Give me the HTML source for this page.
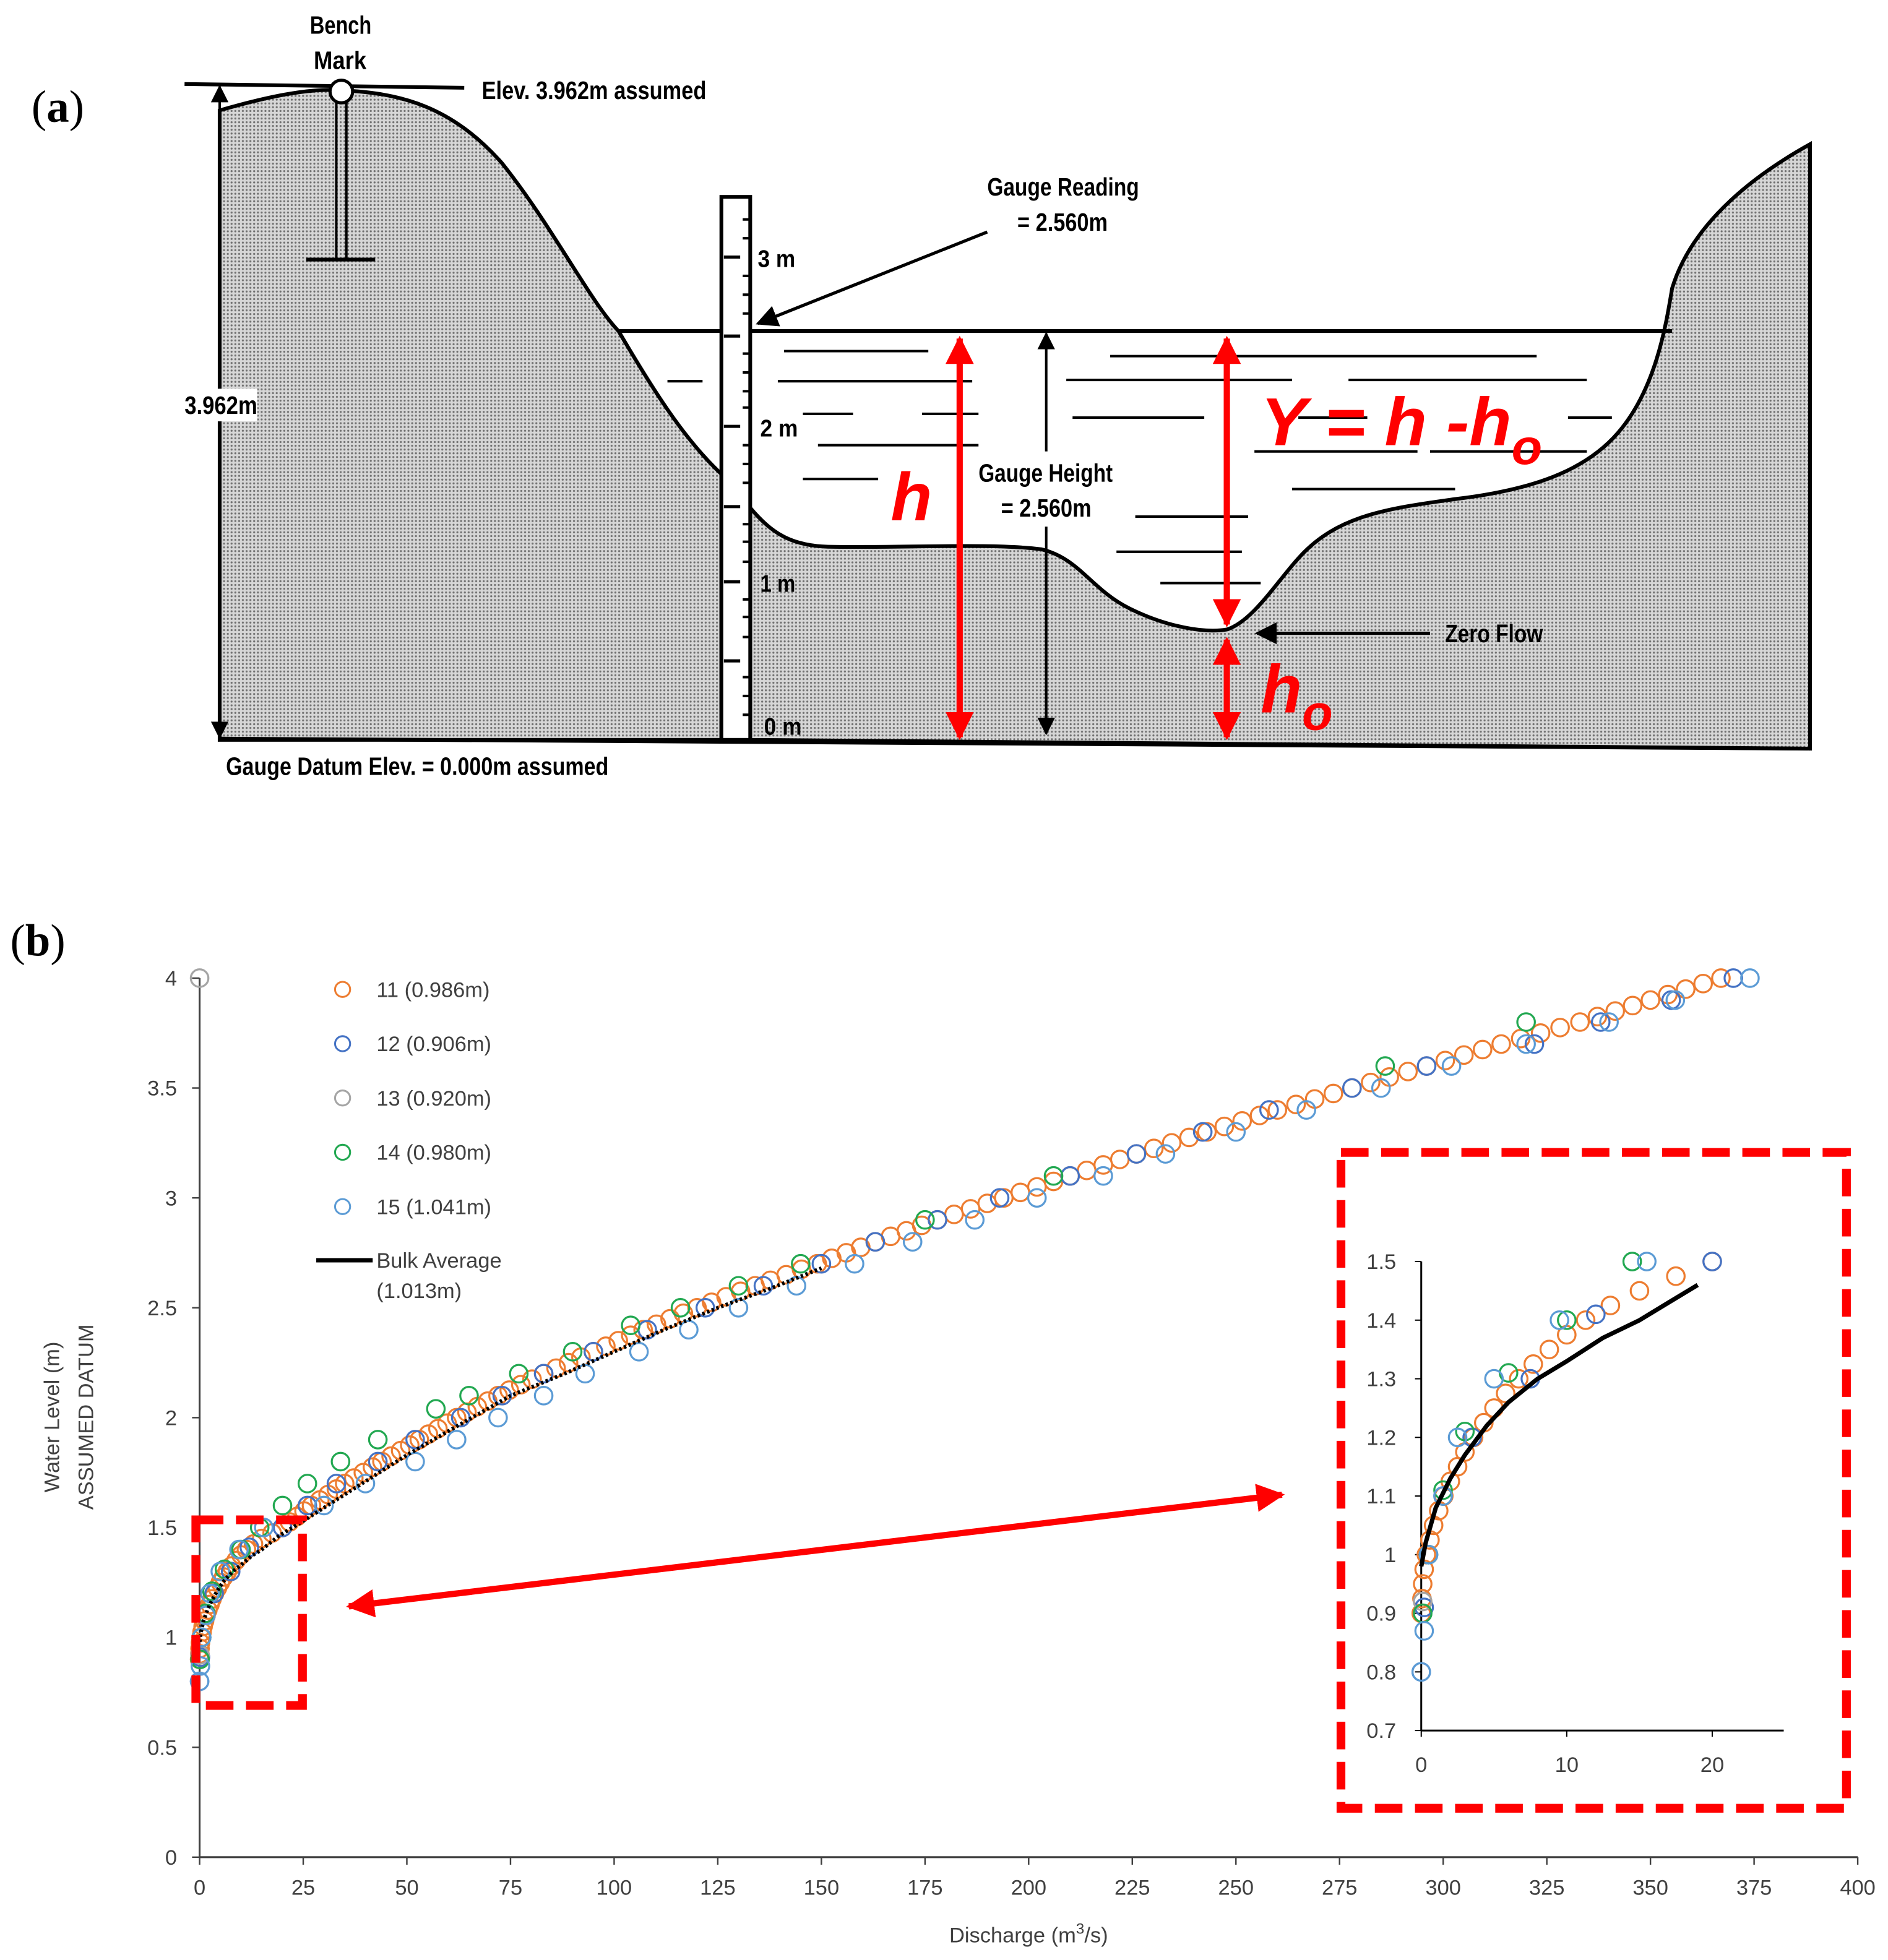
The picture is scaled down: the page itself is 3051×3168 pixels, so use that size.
<!DOCTYPE html>
<html><head><meta charset="utf-8">
<style>
html,body{margin:0;padding:0;background:#fff;}
svg{display:block;}
.nar{font-family:"Liberation Sans Narrow","Liberation Sans",sans-serif;font-weight:bold;}
.tk{font-family:"Liberation Sans",sans-serif;font-size:17px;fill:#404040;}
</style></head>
<body>
<svg id="fig" width="3051" height="3168" viewBox="0 0 1505 1563" xmlns="http://www.w3.org/2000/svg">
<defs>
<pattern id="dots" width="3" height="3" patternUnits="userSpaceOnUse">
<rect width="3" height="3" fill="#d6d6d6"/><circle cx="1.5" cy="1.5" r="0.8" fill="#707070"/>
</pattern>
<marker id="ah" viewBox="0 0 10 10" refX="9" refY="5" markerWidth="7" markerHeight="7" orient="auto-start-reverse"><path d="M0,0 L10,5 L0,10 z" fill="#000"/></marker>
<marker id="rh" viewBox="0 0 10 10" refX="9" refY="5" markerWidth="4.5" markerHeight="4.5" orient="auto-start-reverse"><path d="M0,0 L10,5 L0,10 z" fill="#ff0000"/></marker>
</defs>

<!-- ===== Panel (a) ===== -->
<g>
<text x="25" y="97" font-family="Liberation Serif,serif" font-size="36">(<tspan font-weight="bold">a</tspan>)</text>
<path fill="url(#dots)" stroke="#000" stroke-width="3"
 d="M175,88 C210,78 245,70 271,72 C320,74 360,85 400,130 C440,180 470,240 493,264 C520,310 545,350 575,378 L575,590 L175,590 Z"/>
<path fill="url(#dots)" stroke="#000" stroke-width="3"
 d="M598,405 C615,425 630,435 660,436 C720,437 790,433 830,438 C860,445 870,470 900,485 C930,500 960,505 978,502 C1000,495 1020,460 1040,440 C1070,410 1110,405 1160,398 C1210,392 1260,380 1290,345 C1320,310 1328,260 1333,230 C1345,190 1380,150 1443,115 L1443,597 L598,590 Z"/>
<line x1="493" y1="264" x2="1333" y2="264" stroke="#000" stroke-width="3"/>
<g stroke="#000" stroke-width="2">
<line x1="532" y1="304" x2="560" y2="304"/><line x1="620" y1="304" x2="775" y2="304"/><line x1="625" y1="280" x2="740" y2="280"/>
<line x1="640" y1="330" x2="680" y2="330"/><line x1="735" y1="330" x2="780" y2="330"/><line x1="652" y1="355" x2="780" y2="355"/>
<line x1="640" y1="382" x2="700" y2="382"/><line x1="885" y1="284" x2="1225" y2="284"/><line x1="850" y1="303" x2="1030" y2="303"/>
<line x1="1075" y1="303" x2="1265" y2="303"/><line x1="855" y1="333" x2="960" y2="333"/><line x1="1035" y1="333" x2="1090" y2="333"/>
<line x1="1250" y1="333" x2="1285" y2="333"/><line x1="1000" y1="360" x2="1130" y2="360"/><line x1="1140" y1="360" x2="1265" y2="360"/>
<line x1="1030" y1="390" x2="1160" y2="390"/><line x1="905" y1="412" x2="995" y2="412"/><line x1="890" y1="440" x2="990" y2="440"/>
<line x1="925" y1="465" x2="1005" y2="465"/>
</g>
<g>
<rect x="575" y="157" width="23" height="433" fill="#fff" stroke="#000" stroke-width="3"/>
<g stroke="#000" stroke-width="2.5">
<line x1="577" y1="205" x2="590" y2="205"/><line x1="577" y1="340" x2="590" y2="340"/><line x1="577" y1="464" x2="590" y2="464"/>
<line x1="577" y1="268" x2="590" y2="268"/><line x1="577" y1="404" x2="590" y2="404"/><line x1="577" y1="527" x2="590" y2="527"/>
</g>
<path stroke="#000" stroke-width="2" d="M592,175h5M592,190h5M592,220h5M592,235h5M592,250h5M592,282h5M592,297h5M592,312h5M592,325h5M592,355h5M592,370h5M592,385h5M592,418h5M592,432h5M592,448h5M592,478h5M592,492h5M592,508h5M592,540h5M592,555h5M592,570h5"/>
<text class="nar" x="604" y="213" font-size="19" textLength="30" lengthAdjust="spacingAndGlyphs">3 m</text>
<text class="nar" x="606" y="348" font-size="19" textLength="30" lengthAdjust="spacingAndGlyphs">2 m</text>
<text class="nar" x="606" y="472" font-size="19" textLength="28" lengthAdjust="spacingAndGlyphs">1 m</text>
<text class="nar" x="609" y="586" font-size="19" textLength="30" lengthAdjust="spacingAndGlyphs">0 m</text>
</g>
<line x1="175" y1="589" x2="1443" y2="597" stroke="#000" stroke-width="3"/>
<g>
<line x1="147" y1="67" x2="370" y2="70" stroke="#000" stroke-width="3"/>
<line x1="268" y1="80" x2="268" y2="207" stroke="#000" stroke-width="2"/><line x1="276" y1="80" x2="276" y2="207" stroke="#000" stroke-width="2"/>
<circle cx="272" cy="73" r="9" fill="#fff" stroke="#000" stroke-width="2.5"/>
<line x1="244" y1="207" x2="299" y2="207" stroke="#000" stroke-width="3"/>
<text class="nar" x="247" y="27" font-size="20" textLength="49" lengthAdjust="spacingAndGlyphs">Bench</text>
<text class="nar" x="250" y="55" font-size="20" textLength="42" lengthAdjust="spacingAndGlyphs">Mark</text>
<text class="nar" x="384" y="79" font-size="20" textLength="179" lengthAdjust="spacingAndGlyphs">Elev. 3.962m assumed</text>
</g>
<line x1="175" y1="69" x2="175" y2="588" stroke="#000" stroke-width="2" marker-start="url(#ah)" marker-end="url(#ah)"/>
<rect x="145" y="310" width="60" height="26" fill="#fff"/>
<text class="nar" x="147" y="330" font-size="20" textLength="58" lengthAdjust="spacingAndGlyphs">3.962m</text>
<text class="nar" x="180" y="618" font-size="20" textLength="305" lengthAdjust="spacingAndGlyphs">Gauge Datum Elev. = 0.000m assumed</text>
<text class="nar" x="787" y="156" font-size="20" textLength="121" lengthAdjust="spacingAndGlyphs">Gauge Reading</text>
<text class="nar" x="811" y="184" font-size="20" textLength="72" lengthAdjust="spacingAndGlyphs">= 2.560m</text>
<line x1="787" y1="185" x2="604" y2="258" stroke="#000" stroke-width="2.5" marker-end="url(#ah)"/>
<line x1="834" y1="266" x2="834" y2="360" stroke="#000" stroke-width="2" marker-start="url(#ah)"/>
<line x1="834" y1="420" x2="834" y2="585" stroke="#000" stroke-width="2" marker-end="url(#ah)"/>
<text class="nar" x="780" y="384" font-size="20" textLength="107" lengthAdjust="spacingAndGlyphs">Gauge Height</text>
<text class="nar" x="798" y="412" font-size="20" textLength="72" lengthAdjust="spacingAndGlyphs">= 2.560m</text>
<line x1="1140" y1="505" x2="1002" y2="505" stroke="#000" stroke-width="2.5" marker-end="url(#ah)"/>
<text class="nar" x="1152" y="512" font-size="20" textLength="78" lengthAdjust="spacingAndGlyphs">Zero Flow</text>
<g stroke="#ff0000" stroke-width="5">
<line x1="765" y1="270" x2="765" y2="588" marker-start="url(#rh)" marker-end="url(#rh)"/>
<line x1="978" y1="270" x2="978" y2="498" marker-start="url(#rh)" marker-end="url(#rh)"/>
<line x1="978" y1="510" x2="978" y2="588" marker-start="url(#rh)" marker-end="url(#rh)"/>
</g>
<g font-family="Liberation Sans,sans-serif" font-weight="bold" font-style="italic" fill="#ff0000">
<text x="710" y="415" font-size="54">h</text>
<text x="1005" y="355" font-size="54" textLength="200" lengthAdjust="spacingAndGlyphs">Y = h -h</text>
<text x="1205" y="370" font-size="40" font-weight="bold" font-style="italic" fill="#ff0000">o</text>
<text x="1005" y="568" font-size="54">h<tspan font-size="40" dy="14">o</tspan></text>
</g>
</g>

<!-- ===== Panel (b) ===== -->
<text x="8" y="762" font-family="Liberation Serif,serif" font-size="36">(<tspan font-weight="bold">b</tspan>)</text>
<g id="chart"></g>
</svg>

<script>
// ---- data (Q in m3/s, h in m) ----
const xTicks = [0,25,50,75,100,125,150,175,200,225,250,275,300,325,350,375,400];
const yTicks = [0,0.5,1,1.5,2,2.5,3,3.5,4];
const insetXTicks = [0,10,20];
const insetYTicks = [0.7,0.8,0.9,1,1.1,1.2,1.3,1.4,1.5];
const seriesNames = ["11 (0.986m)","12 (0.906m)","13 (0.920m)","14 (0.980m)","15 (1.041m)"];
const seriesColors = ["#ED7D31","#4472C4","#A5A5A5","#22A851","#5B9BD5"];
const s11Q = [0,0.05,0.1,0.2,0.35,0.6,0.85,1.2,1.55,2.0,2.5,3.0,3.6,4.3,5.0,5.8,6.7,7.7,8.8,10,11.3,13,15,17.5,
 20,21.7,23.5,25.2,27,29,31,33,35,37.2,39.5,41.7,44,46.2,48.5,50.7,53,55.2,57.5,59.7,62,64.5,67,69.5,72,74.7,77.5,80.2,83,86,89,92,95,98,101,104,107,110.2,113.5,116.7,120,123.5,127,130.5,134,137.7,141.5,145.2,149,152.5,156,159.5,163,166.7,170.5,174.2,178,182,186,190,194,198,202,206,210,214,218,222,226,230.2,234.5,238.7,243,247.2,251.5,255.7,260,264.5,269,273.5,278,282.5,287,291.5,296,300.5,305,309.5,314,318.7,323.5,328.2,333,337.2,341.5,345.7,350,354.2,358.5,362.7,367];
const s11H = [0.9,0.925,0.95,0.975,1.0,1.025,1.05,1.075,1.1,1.125,1.15,1.175,1.2,1.225,1.25,1.275,1.3,1.325,1.35,1.375,1.4,1.425,1.45,1.475,
 1.5,1.525,1.55,1.575,1.6,1.625,1.65,1.675,1.7,1.725,1.75,1.775,1.8,1.825,1.85,1.875,1.9,1.925,1.95,1.975,2.0,2.025,2.05,2.075,2.1,2.125,2.15,2.175,2.2,2.225,2.25,2.275,2.3,2.325,2.35,2.375,2.4,2.425,2.45,2.475,2.5,2.525,2.55,2.575,2.6,2.625,2.65,2.675,2.7,2.725,2.75,2.775,2.8,2.825,2.85,2.875,2.9,2.925,2.95,2.975,3.0,3.025,3.05,3.075,3.1,3.125,3.15,3.175,3.2,3.225,3.25,3.275,3.3,3.325,3.35,3.375,3.4,3.425,3.45,3.475,3.5,3.525,3.55,3.575,3.6,3.625,3.65,3.675,3.7,3.725,3.75,3.775,3.8,3.825,3.85,3.875,3.9,3.925,3.95,3.975,4.0];
const s12Q = [0,0.2,0.5,1.5,3.5,7.5,12,20,26,33,43,52,63,73,83,95,108,122,136,150,163,178,193,210,226,242,258,278,296,322,338,355,370];
const s12H = [0.8,0.91,1.0,1.1,1.2,1.3,1.41,1.5,1.6,1.7,1.8,1.9,2.0,2.1,2.2,2.3,2.4,2.5,2.6,2.7,2.8,2.9,3.0,3.1,3.2,3.3,3.4,3.5,3.6,3.7,3.8,3.9,4.0];
const s13Q = [0,0.1];
const s13H = [4.0,0.92];
const s14Q = [0.1,0.5,1.5,3,6,10,14.5,20,26,34,43,57,65,77,90,104,116,130,145,175,206,286,320];
const s14H = [0.9,1.0,1.11,1.21,1.31,1.4,1.5,1.6,1.7,1.8,1.9,2.04,2.1,2.2,2.3,2.42,2.5,2.6,2.7,2.9,3.1,3.6,3.8];
const s15Q = [0,0.2,0.5,1.5,2.5,5,9.5,15.5,30,40,52,62,72,83,93,106,118,130,144,158,172,187,202,218,233,250,267,285,302,320,340,356,374];
const s15H = [0.8,0.87,1.0,1.1,1.2,1.3,1.4,1.5,1.6,1.7,1.8,1.9,2.0,2.1,2.2,2.3,2.4,2.5,2.6,2.7,2.8,2.9,3.0,3.1,3.2,3.3,3.4,3.5,3.6,3.7,3.8,3.9,4.0];
const avgQ = [0,0.3,1,2,3,4.5,6,8,10,12.5,15,17,19,25,35,50,62,75,88,100,112,125,138,150];
const avgH = [0.98,1.02,1.08,1.13,1.17,1.22,1.26,1.3,1.33,1.37,1.4,1.43,1.46,1.53,1.65,1.83,1.96,2.1,2.2,2.3,2.4,2.5,2.59,2.68];

const NS = "http://www.w3.org/2000/svg";
const chart = document.getElementById('chart');
function mk(tag, attrs, parent){const e=document.createElementNS(NS,tag);for(const k in attrs)e.setAttribute(k,attrs[k]);(parent||chart).appendChild(e);return e;}

const X0=159, X1=1481, Y0=1481, Y1=780;
const xS = q => X0 + q/400*(X1-X0);
const yS = h => Y0 - h/4*(Y0-Y1);
const IX0=1133, IY0=1380;
const ixS = q => IX0 + q*11.6;
const iyS = h => IY0 - (h-0.7)*467.5;

let ax = mk('line',{x1:X0,y1:Y0,x2:X1,y2:Y0,stroke:'#404040','stroke-width':1.5});


let ay = mk('line',{x1:X0,y1:Y0,x2:X0,y2:Y1,stroke:'#404040','stroke-width':1.5});


xTicks.forEach(v=>{
  mk('line',{x1:xS(v),y1:Y0,x2:xS(v),y2:Y0+6,stroke:'#404040','stroke-width':1.2});
  const t=mk('text',{x:xS(v),y:Y0+30,'text-anchor':'middle',class:'tk'});t.textContent=v;
  
  
});
yTicks.forEach(v=>{
  mk('line',{x1:X0-6,y1:yS(v),x2:X0,y2:yS(v),stroke:'#404040','stroke-width':1.2});
  const t=mk('text',{x:X0-18,y:yS(v)+6,'text-anchor':'end',class:'tk'});t.textContent=v;
  
  
});
let xt=mk('text',{x:820,y:1549,'text-anchor':'middle',class:'tk','font-size':'19'});
xt.innerHTML='Discharge (m<tspan dy="-7" font-size="12">3</tspan><tspan dy="7">/s)</tspan>';


let yt=mk('text',{transform:'translate(47,1130) rotate(-90)','text-anchor':'middle',class:'tk','font-size':'18'});
yt.textContent='Water Level  (m)';


let yt2=mk('text',{transform:'translate(74,1130) rotate(-90)','text-anchor':'middle',class:'tk','font-size':'18'});
yt2.textContent='ASSUMED DATUM';



const allQ=[s11Q,s12Q,s13Q,s14Q,s15Q], allH=[s11H,s12H,s13H,s14H,s15H];
function drawSeries(xf,yf,filter,pre){
  allQ.forEach((qs,i)=>{
    qs.forEach((q,j)=>{
      const h=allH[i][j];
      if(!filter(q,h))return;
      const c=mk('circle',{cx:xf(q),cy:yf(h),r:7,fill:'none',stroke:seriesColors[i],'stroke-width':1.6});
      
      
    });
  });
}
drawSeries(xS,yS,()=>true,'');
let lineD=avgQ.map((q,i)=>(i?'L':'M')+xS(q).toFixed(1)+','+yS(avgH[i]).toFixed(1)).join(' ');
let avgL=mk('path',{d:lineD,fill:'none',stroke:'#000','stroke-width':3,'stroke-dasharray':'2 2'});



seriesNames.forEach((n,i)=>{
  const y=789+i*43.3;
  const c=mk('circle',{cx:273,cy:y,r:6,fill:'none',stroke:seriesColors[i],'stroke-width':1.5});
  
  
  const t=mk('text',{x:300,y:y+6,class:'tk','font-size':'17'});t.textContent=n;
  
  
});
mk('line',{x1:252,y1:1005,x2:297,y2:1005,stroke:'#000','stroke-width':3.5});
let lb=mk('text',{x:300,y:1011,class:'tk','font-size':'17'});lb.textContent='Bulk Average';


let lb2=mk('text',{x:300,y:1035,class:'tk','font-size':'17'});lb2.textContent='(1.013m)';



let sb=mk('rect',{x:156,y:1212,width:85,height:148,fill:'none',stroke:'#ff0000','stroke-width':7,'stroke-dasharray':'22 10'});


let bb=mk('rect',{x:1069,y:919,width:403,height:523,fill:'#fff',stroke:'#ff0000','stroke-width':7,'stroke-dasharray':'22 10'});


let ar=mk('line',{x1:278,y1:1281,x2:1022,y2:1192,stroke:'#ff0000','stroke-width':5,'marker-start':'url(#rh)','marker-end':'url(#rh)'});



let iax=mk('line',{x1:IX0,y1:IY0,x2:1422,y2:IY0,stroke:'#000','stroke-width':1.5});


let iay=mk('line',{x1:IX0,y1:IY0,x2:IX0,y2:iyS(1.5),stroke:'#000','stroke-width':1.5});


insetXTicks.forEach(v=>{
  mk('line',{x1:ixS(v),y1:IY0,x2:ixS(v),y2:IY0+5,stroke:'#000','stroke-width':1});
  const t=mk('text',{x:ixS(v),y:IY0+33,'text-anchor':'middle',class:'tk','font-size':'17'});t.textContent=v;
  
  
});
insetYTicks.forEach(v=>{
  mk('line',{x1:IX0-5,y1:iyS(v),x2:IX0,y2:iyS(v),stroke:'#000','stroke-width':1});
  const t=mk('text',{x:IX0-20,y:iyS(v)+6,'text-anchor':'end',class:'tk','font-size':'17'});t.textContent=v;
  
  
});
drawSeries(ixS,iyS,(q,h)=>q<=22&&h<=1.52&&h>=0.7,'inset-');
let iD=avgQ.filter(q=>q<=19).map((q,i)=>(i?'L':'M')+ixS(q).toFixed(1)+','+iyS(avgH[i]).toFixed(1)).join(' ');
let iL=mk('path',{d:iD,fill:'none',stroke:'#000','stroke-width':3.5,'stroke-linejoin':'round'});


</script>
</body></html>
